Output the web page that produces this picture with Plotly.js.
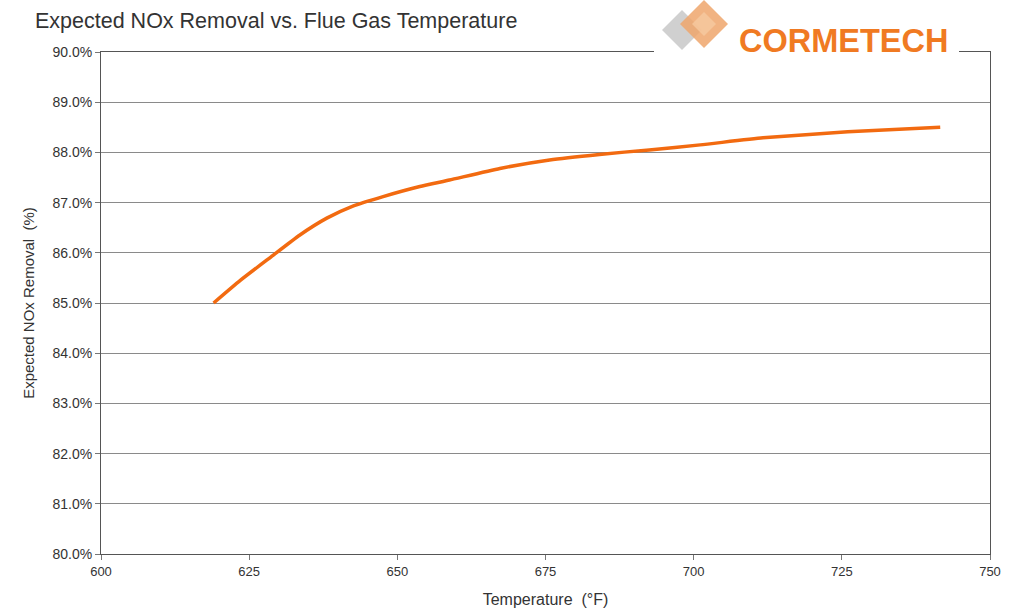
<!DOCTYPE html>
<html><head><meta charset="utf-8">
<script src="https://cdn.plot.ly/plotly-3.0.1.min.js"></script>
<style>html,body{margin:0;padding:0;background:#fff}#chart{width:1019px;height:615px}</style>
</head><body><div id="chart"></div>
<script>
// Data
const temperatureF = [619, 623.5, 628.7, 633.5, 638.1, 642.5, 647.6, 653.8, 658.8, 667.3, 675.7, 684.1, 692.5, 701.1, 711.7, 726, 741.6];
const noxRemoval   = [0.8500, 0.8545, 0.8592, 0.8635, 0.8669, 0.8693, 0.8712, 0.8732, 0.8745, 0.8768, 0.8785, 0.8796, 0.8805, 0.8815, 0.8829, 0.8841, 0.8850];
const xTicks = [600, 625, 650, 675, 700, 725, 750];
const yTicks = [0.80, 0.81, 0.82, 0.83, 0.84, 0.85, 0.86, 0.87, 0.88, 0.89, 0.90];
const yTickText = yTicks.map(v => (v * 100).toFixed(1) + '%');

const W = 1019, H = 615, L = 101, R = 29, T = 52, B = 61;
const pw = W - L - R, ph = H - T - B;
const px = x => (x - L) / pw;
const py = y => (H - B - y) / ph;

function diamond(cx, cy, r, fill, op) {
  return {type: 'path', xref: 'paper', yref: 'paper', layer: 'above',
    path: `M ${px(cx - r)} ${py(cy)} L ${px(cx)} ${py(cy - r)} L ${px(cx + r)} ${py(cy)} L ${px(cx)} ${py(cy + r)} Z`,
    fillcolor: fill, opacity: op, line: {width: 0}};
}

const shapes = [
  {type: 'rect', xref: 'paper', yref: 'paper', layer: 'above',
   x0: px(654), x1: px(959), y0: py(58), y1: py(0), fillcolor: '#ffffff', line: {width: 0}},
  diamond(682, 30, 20, '#c4c4c4', 0.8),
  diamond(704, 24, 24, '#eea66c', 0.85),
  diamond(704, 24, 12, '#f6c9a0', 0.8)
];

const trace = {
  x: temperatureF, y: noxRemoval, type: 'scatter', mode: 'lines',
  line: {color: '#f26a10', width: 3.5, shape: 'spline', smoothing: 0.5},
  hoverinfo: 'skip'
};

const layout = {
  width: W, height: H,
  margin: {l: L, r: R, t: T, b: B},
  paper_bgcolor: '#ffffff', plot_bgcolor: '#ffffff',
  showlegend: false,
  title: {text: 'Expected NOx Removal vs. Flue Gas Temperature', x: 35 / W, xanchor: 'left', y: 1 - 20 / H, yanchor: 'middle',
          font: {family: 'Liberation Sans, Arial, sans-serif', size: 21.5, color: '#333333'}},
  xaxis: {range: [600, 750], tickvals: xTicks, ticktext: xTicks.map(String),
          showgrid: false, zeroline: false, showline: true, linecolor: '#555555', linewidth: 1, mirror: true,
          ticks: 'outside', ticklen: 5, tickcolor: '#777777',
          tickfont: {family: 'Liberation Sans, Arial, sans-serif', size: 13, color: '#333333'},
          title: {text: 'Temperature  (°F)', standoff: 16,
                  font: {family: 'Liberation Sans, Arial, sans-serif', size: 16, color: '#333333'}}},
  yaxis: {range: [0.80, 0.90], tickvals: yTicks, ticktext: yTickText,
          showgrid: true, gridcolor: '#8a8a8a', gridwidth: 1, zeroline: false,
          showline: true, linecolor: '#555555', linewidth: 1, mirror: true,
          ticks: 'outside', ticklen: 5, tickcolor: '#777777',
          tickfont: {family: 'Liberation Sans, Arial, sans-serif', size: 14, color: '#333333'},
          title: {text: 'Expected NOx Removal  (%)', standoff: 14,
                  font: {family: 'Liberation Sans, Arial, sans-serif', size: 15, color: '#333333'}}},
  shapes: shapes,
  annotations: [{text: '<b>CORMETECH</b>', xref: 'paper', yref: 'paper', x: px(737), y: py(41), xanchor: 'left', yanchor: 'middle',
                 showarrow: false, font: {family: 'Liberation Sans, Arial, sans-serif', size: 32.5, color: '#f07a22'}}]
};

Plotly.newPlot('chart', [trace], layout, {displayModeBar: false, staticPlot: true});
</script></body></html>
